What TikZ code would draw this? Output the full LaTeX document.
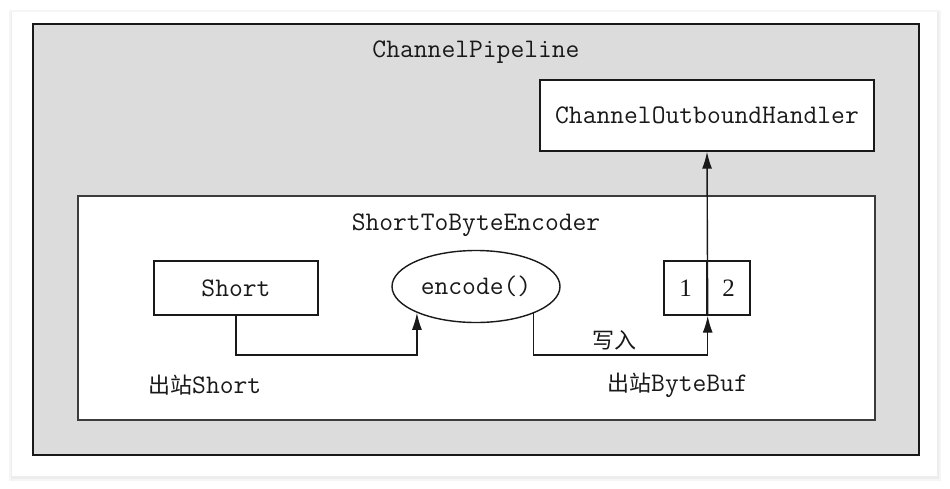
\documentclass[tikz,border=0pt]{standalone}
\usepackage{fontspec}
\setmainfont{Liberation Serif}
\newfontfamily\cjk{Noto Sans CJK SC}
\usetikzlibrary{shapes.geometric,arrows.meta}
\definecolor{pipegray}{RGB}{220,220,220}
\definecolor{ink}{RGB}{25,25,25}
\begin{document}
\begin{tikzpicture}[x=1pt,y=-1pt,
  mono/.style={font=\fontsize{26.8}{30}\selectfont\ttfamily, text=ink},
  cjklabel/.style={font=\fontsize{22}{26}\selectfont\cjk, text=ink},
  boxnode/.style={draw=ink, line width=1.4pt, fill=white, rectangle, inner sep=0pt},
  arr/.style={draw=ink, line width=1.4pt, -{Latex[length=17pt,width=10pt]}},
  line/.style={draw=ink, line width=1.4pt}]
\useasboundingbox (0,0) rectangle (950,488);
% page and card with soft shadow
\fill[white] (0,0) rectangle (950,488);
\fill[black!4] (9,10) rectangle (941,481);
\fill[black!7] (11,12) rectangle (939,479);
\fill[white] (12,12) rectangle (937,476);
% outer pipeline box
\node[draw=ink, line width=2.2pt, fill=pipegray, rectangle, inner sep=0pt,
      minimum width=886pt, minimum height=431pt] (pipe) at (476,239.5) {};
\node[mono] (pipelabel) at (476,52) {ChannelPipeline};
% handler
\node[boxnode, mono, minimum width=334pt, minimum height=71pt] (handler) at (707,115.5) {ChannelOutboundHandler};
% encoder box
\node[draw=ink!85, line width=1.8pt, fill=white, rectangle, inner sep=0pt,
      minimum width=797pt, minimum height=224pt] (encoder) at (476.5,308) {};
\node[mono] (enclabel) at (476,225) {ShortToByteEncoder};
% Short box
\node[boxnode, mono, minimum width=164pt, minimum height=54pt] (short) at (236,288) {Short};
% encode ellipse
\node[draw=ink, line width=1.4pt, fill=white, ellipse, inner sep=0pt, mono,
      minimum width=168pt, minimum height=72pt] (enc) at (476,286.5) {encode()};
% byte buffer
\node[boxnode, minimum width=43pt, minimum height=54pt,
      font=\fontsize{25}{28}\selectfont, text=ink] (b1) at (685.5,288) {1};
\node[boxnode, minimum width=43pt, minimum height=54pt,
      font=\fontsize{25}{28}\selectfont, text=ink] (b2) at (728.5,288) {2};
% connectors
\coordinate (c1) at (236,355);
\coordinate (c2) at (534,355);
\draw[arr] (short.south) |- (c1) -| (enc.204.5);
\draw[arr] (enc.335.5) |- (c2) -| (b1.south east);
\draw[arr] (b1.south east) -- (handler.south);
% labels
\node[cjklabel] (write) at (614,340) {写入};
\node[anchor=west, inner sep=0pt] (outshort) at (148,385) {{\cjk\fontsize{22}{26}\selectfont\color{ink}出站}{\fontsize{26.8}{30}\selectfont\ttfamily\color{ink}Short}};
\node[anchor=west, inner sep=0pt] (outbuf) at (607,385) {{\cjk\fontsize{22}{26}\selectfont\color{ink}出站}{\fontsize{26.8}{30}\selectfont\ttfamily\color{ink}ByteBuf}};
\end{tikzpicture}
\end{document}
